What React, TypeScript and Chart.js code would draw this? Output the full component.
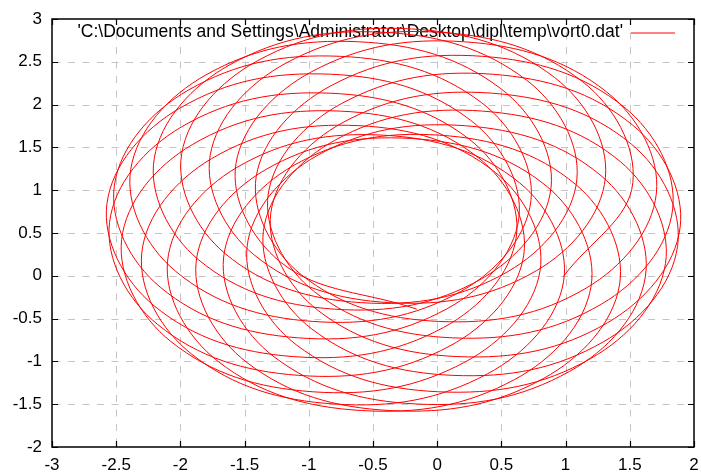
import React, { useEffect, useRef } from 'react';
import { Chart, registerables } from 'chart.js';

Chart.register(...registerables);

const seriesLabel = "'C:\\Documents and Settings\\Administrator\\Desktop\\dipl\\temp\\vort0.dat'";

const xTicks = [-3, -2.5, -2, -1.5, -1, -0.5, 0, 0.5, 1, 1.5, 2];
const yTicks = [-2, -1.5, -1, -0.5, 0, 0.5, 1, 1.5, 2, 2.5, 3];

// trajectory (x, y pairs in order)
const trajX = [
  0.983, 1.524, 1.131, 0.018, -1.176, -1.768, -1.428, -0.368,
  0.772, 1.310, 0.914, -0.201, -1.396, -1.990, -1.650, -0.590,
  0.550, 1.088, 0.694, -0.420, -1.613, -2.204, -1.861, -0.799,
  0.344, 0.887, 0.496, -0.612, -1.800, -2.387, -2.038, -0.969,
  0.180, 0.730, 0.346, -0.755, -1.936, -2.514, -2.157, -1.080,
  0.078, 0.636, 0.261, -0.831, -2.003, -2.572, -2.205, -1.119,
  0.049, 0.616, 0.251, -0.831, -1.993, -2.552, -2.176, -1.080,
  0.097, 0.674, 0.318, -0.755, -1.908, -2.458, -2.074, -0.969,
  0.216, 0.801, 0.454, -0.612, -1.758, -2.301, -1.910, -0.799,
  0.393, 0.984, 0.641, -0.420, -1.560, -2.100, -1.704, -0.590,
  0.604, 1.198, 0.858, -0.201, -1.340, -1.878, -1.482, -0.368,
  0.826, 1.420, 1.078, 0.018, -1.123, -1.664, -1.271, -0.159,
  1.032, 1.621, 1.276, 0.210, -0.936, -1.481, -1.094, 0.011,
  1.196, 1.778, 1.426, 0.353, -0.800, -1.354, -0.975, 0.122,
  1.298, 1.872, 1.511, 0.429, -0.733, -1.296, -0.927, 0.161,
  1.327, 1.892, 1.521, 0.429, -0.743, -1.316, -0.956, 0.122,
  1.279, 1.834, 1.454, 0.353, -0.828, -1.410, -1.058, 0.011,
  1.160, 1.707, 1.318, 0.210, -0.978, -1.567, -1.222, -0.159,
];
const trajY = [
  -0.008, 1.091, 2.269, 2.845, 2.486, 1.407, 0.247, -0.314,
  0.059, 1.149, 2.317, 2.884, 2.515, 1.427, 0.257, -0.314,
  0.049, 1.129, 2.288, 2.845, 2.467, 1.369, 0.190, -0.390,
  -0.036, 1.035, 2.186, 2.734, 2.348, 1.242, 0.054, -0.533,
  -0.186, 0.878, 2.022, 2.564, 2.171, 1.059, -0.133, -0.725,
  -0.384, 0.677, 1.816, 2.355, 1.960, 0.845, -0.350, -0.944,
  -0.604, 0.455, 1.594, 2.133, 1.738, 0.623, -0.570, -1.163,
  -0.821, 0.241, 1.383, 1.924, 1.532, 0.422, -0.768, -1.355,
  -1.008, 0.058, 1.206, 1.754, 1.368, 0.265, -0.918, -1.498,
  -1.144, -0.069, 1.087, 1.643, 1.266, 0.171, -1.003, -1.574,
  -1.211, -0.127, 1.039, 1.604, 1.237, 0.151, -1.013, -1.574,
  -1.201, -0.107, 1.068, 1.643, 1.285, 0.209, -0.946, -1.498,
  -1.116, -0.013, 1.170, 1.754, 1.404, 0.336, -0.810, -1.355,
  -0.966, 0.144, 1.334, 1.924, 1.581, 0.519, -0.623, -1.163,
  -0.768, 0.345, 1.540, 2.133, 1.792, 0.733, -0.406, -0.944,
  -0.548, 0.567, 1.762, 2.355, 2.014, 0.955, -0.186, -0.725,
  -0.331, 0.781, 1.973, 2.564, 2.220, 1.156, 0.012, -0.533,
  -0.144, 0.964, 2.150, 2.734, 2.384, 1.313, 0.162, -0.390,
];

const FONT = '"Liberation Sans", Arial, sans-serif';
const FONT_SIZE = 17;
const KEY_FONT_SIZE = 17.5;
const LINE_RED = '#ff0000';

const framePlugin = {
  id: 'gnuplotFrame',
  beforeDatasetsDraw(chart: any) {
    const { ctx, chartArea: a } = chart;
    const xs = chart.scales.x;
    const ys = chart.scales.y;
    ctx.save();
    ctx.strokeStyle = '#c4c4c4';
    ctx.lineWidth = 1;
    ctx.setLineDash([7, 7.5]);
    ctx.lineDashOffset = -1.5;
    xTicks.forEach((v) => {
      const px = Math.round(xs.getPixelForValue(v)) + 0.5;
      if (px <= a.left + 2 || px >= a.right - 2) return;
      ctx.beginPath();
      ctx.moveTo(px, a.bottom);
      ctx.lineTo(px, a.top);
      ctx.stroke();
    });
    yTicks.forEach((v) => {
      const py = Math.round(ys.getPixelForValue(v)) + 0.5;
      if (py <= a.top + 2 || py >= a.bottom - 2) return;
      ctx.beginPath();
      ctx.moveTo(a.left, py);
      ctx.lineTo(a.right, py);
      ctx.stroke();
    });
    ctx.setLineDash([]);
    // key
    const keyY = a.top + 13.5;
    const sampleRight = a.right - 19;
    const sampleLeft = sampleRight - 44;
    ctx.font = `${KEY_FONT_SIZE}px ${FONT}`;
    ctx.fillStyle = '#000';
    ctx.textAlign = 'right';
    ctx.textBaseline = 'middle';
    ctx.fillText(seriesLabel, sampleLeft - 8, keyY);
    ctx.strokeStyle = LINE_RED;
    ctx.lineWidth = 1;
    ctx.beginPath();
    ctx.moveTo(sampleLeft, keyY + 0.5);
    ctx.lineTo(sampleRight, keyY + 0.5);
    ctx.stroke();
    ctx.restore();
  },
  afterDatasetsDraw(chart: any) {
    const { ctx, chartArea: a } = chart;
    const xs = chart.scales.x;
    const ys = chart.scales.y;
    ctx.save();
    ctx.strokeStyle = '#000';
    ctx.lineWidth = 1.2;
    const tl = 6;
    ctx.beginPath();
    xTicks.forEach((v) => {
      const px = Math.round(xs.getPixelForValue(v)) + 0.5;
      ctx.moveTo(px, a.bottom);
      ctx.lineTo(px, a.bottom - tl);
      ctx.moveTo(px, a.top);
      ctx.lineTo(px, a.top + tl);
    });
    yTicks.forEach((v) => {
      const py = Math.round(ys.getPixelForValue(v)) + 0.5;
      ctx.moveTo(a.left, py);
      ctx.lineTo(a.left + tl, py);
      ctx.moveTo(a.right, py);
      ctx.lineTo(a.right - tl, py);
    });
    ctx.stroke();
    ctx.lineWidth = 1.5;
    ctx.strokeRect(a.left, a.top, a.right - a.left, a.bottom - a.top);
    ctx.restore();
  },
};

export default function App() {
  const canvasRef = useRef<HTMLCanvasElement | null>(null);

  useEffect(() => {
    const canvas = canvasRef.current;
    if (!canvas) return;
    const points = trajX.map((x, i) => ({ x, y: trajY[i] }));
    const chart = new Chart(canvas, {
      type: 'line',
      data: {
        datasets: [
          {
            label: seriesLabel,
            data: points,
            borderColor: LINE_RED,
            borderWidth: 1,
            pointRadius: 0,
            pointHoverRadius: 0,
            fill: false,
            tension: 0.38,
          },
        ],
      },
      options: {
        animation: false,
        responsive: false,
        devicePixelRatio: 1,
        events: [],
        layout: { padding: { top: 19, right: 7, left: 0, bottom: 0 } },
        plugins: {
          legend: { display: false },
          tooltip: { enabled: false },
          title: { display: false },
        },
        scales: {
          x: {
            type: 'linear',
            min: -3,
            max: 2,
            afterBuildTicks: (s: any) => {
              s.ticks = xTicks.map((value) => ({ value }));
            },
            afterFit: (s: any) => {
              s.height = 29;
              s.paddingLeft = 0;
              s.paddingRight = 0;
            },
            grid: { display: false, drawTicks: false },
            border: { display: false },
            ticks: {
              autoSkip: false,
              maxRotation: 0,
              padding: 8,
              color: '#000',
              font: { family: FONT, size: FONT_SIZE },
              callback: (v: any) => String(v),
            },
          },
          y: {
            type: 'linear',
            min: -2,
            max: 3,
            afterBuildTicks: (s: any) => {
              s.ticks = yTicks.map((value) => ({ value }));
            },
            afterFit: (s: any) => {
              s.width = 52;
              s.paddingTop = 0;
              s.paddingBottom = 0;
            },
            grid: { display: false, drawTicks: false },
            border: { display: false },
            ticks: {
              autoSkip: false,
              padding: 10,
              color: '#000',
              font: { family: FONT, size: FONT_SIZE },
              callback: (v: any) => String(v),
            },
          },
        },
      },
      plugins: [framePlugin],
    });
    return () => {
      chart.destroy();
    };
  }, []);

  return (
    <div style={{ position: 'absolute', left: 0, top: 0, width: 701, height: 476, background: '#fff' }}>
      <canvas ref={canvasRef} width={701} height={476} />
    </div>
  );
}
